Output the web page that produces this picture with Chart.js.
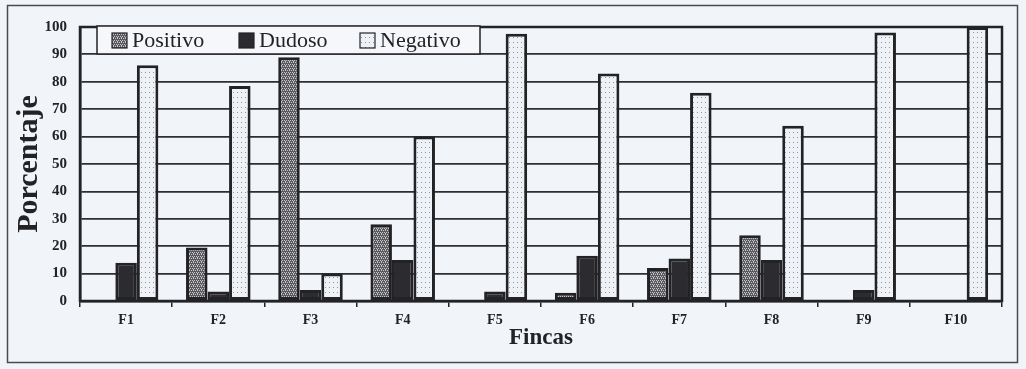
<!DOCTYPE html>
<html>
<head>
<meta charset="utf-8">
<script src="https://cdn.jsdelivr.net/npm/chart.js@4.4.1/dist/chart.umd.min.js"></script>
<style>
  html, body { margin: 0; padding: 0; background: #f1f4f9; }
  #wrap { width: 1026px; height: 369px; position: relative; }
</style>
</head>
<body>
<div id="wrap"><canvas id="c" width="1026" height="369"></canvas></div>
<script>
const categories = ["F1", "F2", "F3", "F4", "F5", "F6", "F7", "F8", "F9", "F10"];
const positivo = [0, 19.5, 89, 28, 0, 3, 12, 24, 0, 0];
const dudoso   = [14, 3.5, 4, 15, 3.5, 16.5, 15.5, 15, 4, 0];
const negativo = [86, 78.5, 10, 60, 97.5, 83, 76, 64, 98, 100];
const seriesNames = ["Positivo", "Dudoso", "Negativo"];
const yTitle = "Porcentaje";
const xTitle = "Fincas";

function makePattern(w, h, base, dots, dotColor) {
  const c = document.createElement('canvas');
  c.width = w; c.height = h;
  const g = c.getContext('2d');
  g.fillStyle = base; g.fillRect(0, 0, w, h);
  g.fillStyle = dotColor;
  dots.forEach(d => g.fillRect(d[0], d[1], 1, 1));
  return g.createPattern(c, 'repeat');
}
const ctx0 = document.getElementById('c').getContext('2d');
const patPos = makePattern(4, 4, '#5a5a5e', [[0,0],[2,0],[1,2],[3,2],[1,1]], '#c4c6ca');
const patDud = '#2b2b30';
const patNeg = makePattern(4, 5, '#eef1f6', [[1,2]], '#8e96a2');

const ink = '#232326';

const bgFrame = {
  id: 'bgFrame',
  beforeDraw(chart) {
    const c = chart.ctx;
    c.save();
    c.fillStyle = '#f1f4f9';
    c.fillRect(0, 0, chart.width, chart.height);
    c.strokeStyle = '#4a4a50';
    c.lineWidth = 1.5;
    c.strokeRect(7.5, 5.5, 1010, 357);
    c.restore();
  },
  afterDatasetsDraw(chart) {
    const a = chart.chartArea;
    const c = chart.ctx;
    c.save();
    c.strokeStyle = ink;
    c.lineWidth = 2.5;
    c.strokeRect(a.left, a.top, a.right - a.left, a.bottom - a.top);
    c.restore();
  },
  afterDraw(chart) {
    const a = chart.chartArea;
    const c = chart.ctx;
    c.save();
    const bx = a.left + 17, by = a.top - 1, bw = 383, bh = 28;
    c.fillStyle = '#f5f7fb';
    c.fillRect(bx, by, bw, bh);
    c.strokeStyle = ink;
    c.lineWidth = 1.5;
    c.strokeRect(bx, by, bw, bh);
    const sw = [15, 142, 263];
    c.font = '22px "Liberation Serif", "Times New Roman", serif';
    c.textBaseline = 'middle';
    chart.data.datasets.forEach((ds, i) => {
      const sx = bx + sw[i], sy = by + 7;
      c.fillStyle = ds.backgroundColor;
      c.fillRect(sx, sy, 15, 15);
      c.strokeStyle = ink;
      c.lineWidth = 1.2;
      c.strokeRect(sx, sy, 15, 15);
      c.fillStyle = ink;
      c.fillText(ds.label, sx + 20, by + bh / 2 + 1);
    });
    c.restore();
  }
};

new Chart(ctx0, {
  type: 'bar',
  data: {
    labels: categories,
    datasets: [
      { label: seriesNames[0], data: positivo, backgroundColor: patPos },
      { label: seriesNames[1], data: dudoso, backgroundColor: patDud },
      { label: seriesNames[2], data: negativo, backgroundColor: patNeg }
    ]
  },
  options: {
    responsive: false,
    animation: false,
    events: [],
    devicePixelRatio: 1,
    layout: { padding: { left: 0, right: 24, top: 27, bottom: 0 } },
    datasets: {
      bar: {
        borderColor: ink,
        borderWidth: 3,
        borderSkipped: false,
        categoryPercentage: 0.7,
        barPercentage: 1.0
      }
    },
    plugins: { legend: { display: false }, tooltip: { enabled: false } },
    scales: {
      x: {
        afterFit(s) { s.height = 68; },
        offset: true,
        grid: { display: true, drawOnChartArea: false, drawTicks: true, tickLength: 6, offset: true, color: ink, lineWidth: 1.5 },
        border: { display: true, color: ink, width: 2.5 },
        ticks: { color: ink, padding: 5, font: { family: '"Liberation Serif", serif', size: 14, weight: 'bold' } },
        title: { display: true, text: xTitle, color: ink, padding: { top: 0, bottom: 17 },
                 font: { family: '"Liberation Serif", serif', size: 23, weight: 'bold' } }
      },
      y: {
        afterFit(s) { s.width = 80; },
        min: 0, max: 100,
        grid: { display: true, drawTicks: false, color: '#2e2e33', lineWidth: 1.8 },
        border: { display: true, color: ink, width: 2.5 },
        ticks: { stepSize: 10, color: ink, padding: 13, font: { family: '"Liberation Serif", serif', size: 15, weight: 'bold' } },
        title: { display: true, text: yTitle, color: ink, padding: { top: 11, bottom: 0 },
                 font: { family: '"Liberation Serif", serif', size: 30, weight: 'bold' } }
      }
    }
  },
  plugins: [bgFrame]
});
</script>
</body>
</html>
